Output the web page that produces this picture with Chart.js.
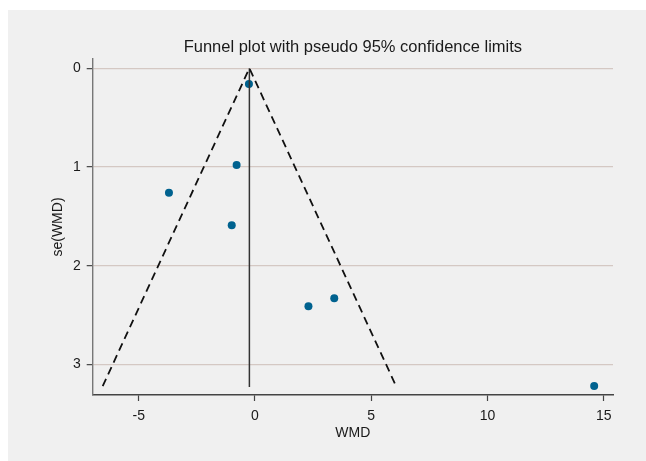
<!DOCTYPE html>
<html>
<head>
<meta charset="utf-8">
<script src="https://cdn.jsdelivr.net/npm/chart.js@4"></script>
<style>
  html, body { margin: 0; padding: 0; background: #fff; }
  #panel { position: absolute; left: 8px; top: 10px; width: 638px; height: 451px; background: #f0f0f0; }
</style>
</head>
<body>
<div id="panel"><canvas id="funnel"></canvas></div>
<script>
// study estimates
const wmd = [-0.26, -0.79, -3.70, -1.00, 2.30, 3.41, 14.59];
const seWmd = [0.16, 0.98, 1.26, 1.59, 2.41, 2.33, 3.22];

// pooled estimate line and pseudo 95% limits
const pooledX = [-0.24, -0.24];
const pooledSe = [0, 3.23];
const limitX = [-6.55, -0.24, 6.07];
const limitSe = [3.22, 0, 3.22];

const xTicks = [-5, 0, 5, 10, 15];
const yTicks = [0, 1, 2, 3];

const FONT = 'Arial, "Liberation Sans", Helvetica, sans-serif';
const toPts = (xs, ys) => xs.map((x, i) => ({ x: x, y: ys[i] }));

// title centred over the plot region, like Stata does
const plotTitle = {
  id: 'plotTitle',
  afterDraw(chart) {
    const { ctx, chartArea } = chart;
    ctx.save();
    ctx.fillStyle = '#1a1a1a';
    ctx.font = '16.5px ' + FONT;
    ctx.textAlign = 'center';
    ctx.textBaseline = 'middle';
    ctx.fillText('Funnel plot with pseudo 95% confidence limits', (chartArea.left + chartArea.right) / 2, 37);
    ctx.restore();
  }
};

new Chart(document.getElementById('funnel'), {
  type: 'scatter',
  data: {
    datasets: [
      { data: toPts(limitX, limitSe), showLine: true, borderColor: '#111', borderWidth: 1.8,
        borderDash: [8, 5], pointRadius: 0, fill: false },
      { data: toPts(pooledX, pooledSe), showLine: true, borderColor: '#333', borderWidth: 1.5,
        pointRadius: 0, fill: false },
      { data: toPts(wmd, seWmd), backgroundColor: '#00628f', borderColor: '#00628f',
        pointRadius: 4, pointBorderWidth: 0 },
    ],
  },
  options: {
    responsive: true,
    maintainAspectRatio: false,
    animation: false,
    layout: { padding: { top: 49, right: 33, bottom: 0, left: 0 } },
    plugins: { legend: { display: false }, tooltip: { enabled: false } },
    scales: {
      x: {
        type: 'linear', min: -6.98, max: 15.4,
        afterBuildTicks: s => { s.ticks = xTicks.map(v => ({ value: v })); },
        afterFit: s => { s.height = 66; },
        grid: { drawOnChartArea: false, tickLength: 6, tickColor: '#444', tickWidth: 1.2 },
        border: { display: true, color: '#444', width: 1.4 },
        ticks: { color: '#1a1a1a', font: { family: FONT, size: 14 }, padding: 7, maxRotation: 0 },
        title: { display: true, text: 'WMD', color: '#1a1a1a', font: { family: FONT, size: 14 },
                 padding: { top: 0, bottom: 19 } },
      },
      y: {
        type: 'linear', reverse: true, min: -0.094, max: 3.31,
        afterBuildTicks: s => { s.ticks = yTicks.map(v => ({ value: v })); },
        afterFit: s => { s.width = 84.7; },
        grid: { color: '#d4c8c3', lineWidth: 1.3, tickLength: 6, tickColor: '#444', tickWidth: 1.2 },
        border: { display: true, color: '#777', width: 1.4 },
        ticks: { color: '#1a1a1a', font: { family: FONT, size: 14 }, padding: 6 },
        title: { display: true, text: 'se(WMD)', color: '#1a1a1a', font: { family: FONT, size: 14 },
                 padding: { top: 42, bottom: 0 } },
      },
    },
  },
  plugins: [plotTitle],
});
</script>
</body>
</html>
